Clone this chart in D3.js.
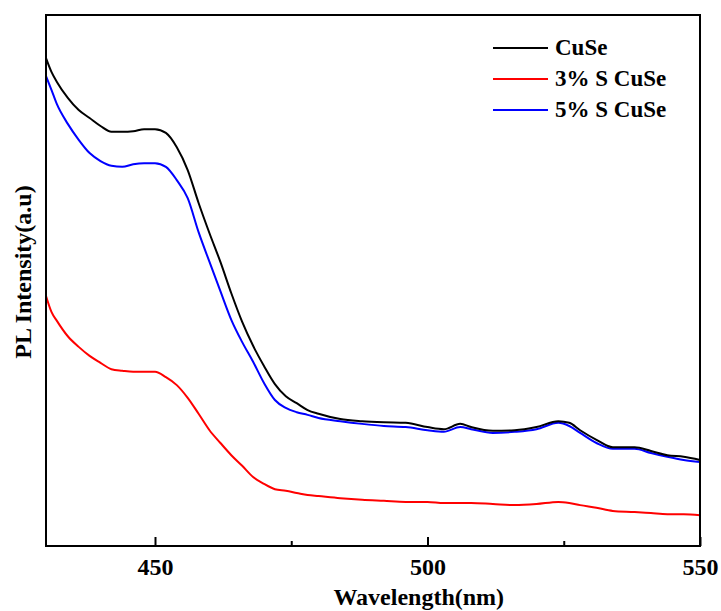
<!DOCTYPE html>
<meta charset="utf-8">
<script src="https://cdn.jsdelivr.net/npm/d3@7"></script>
<style>
    body { margin: 0; background: #fff; }
    text { font-family: "Liberation Serif", "Times New Roman", serif; font-weight: bold; }
</style>
<div id="chart"></div>
<script>
    // wavelength grid (nm)
    var wavelength = [430, 431, 432, 434, 436, 438, 440, 442, 444, 446, 448, 450, 452, 454, 456, 458, 460, 462, 464, 466,
        468, 470, 472, 474, 476, 478, 480, 484, 488, 492, 496, 500, 503, 506, 508, 512, 516, 520, 524, 526, 528, 531,
        534, 538, 541, 544, 547, 550];

    // PL intensity (a.u.)
    var cuse = [919, 893, 874, 844, 821, 806, 791, 780, 780, 781, 785, 785, 778, 751, 708, 646, 589, 535, 476, 422,
        377, 339, 305, 282, 269, 256, 249, 239, 235, 233, 232, 224, 220, 230, 224, 217, 218, 224, 235, 232, 218, 200,
        186, 186, 179, 171, 168, 162];
    var s3 = [471, 441, 424, 395, 375, 358, 345, 333, 330, 328, 328, 328, 318, 303, 279, 249, 218, 194, 171, 151,
        130, 117, 107, 104, 100, 96, 94, 90, 87, 85, 83, 83, 81, 81, 81, 79, 77, 79, 83, 81, 77, 72,
        66, 64, 62, 60, 60, 58];
    var s5 = [885, 859, 832, 795, 765, 740, 725, 716, 714, 719, 721, 721, 714, 689, 655, 591, 535, 480, 426, 384,
        347, 307, 275, 260, 252, 247, 241, 235, 230, 226, 224, 218, 215, 224, 220, 213, 215, 220, 232, 226, 213, 194,
        183, 183, 175, 168, 162, 158];

    var seriesNames = ["CuSe", "3% S CuSe", "5% S CuSe"];
    var seriesColors = ["#000000", "#ff0000", "#0000ff"];
    var majorTicks = [450, 500, 550];
    var minorTicks = [475, 525];

    var margin = { top: 15, right: 21, bottom: 65, left: 46 },
        width = 721 - margin.left - margin.right,
        height = 611 - margin.top - margin.bottom;

    var svg = d3.select("#chart")
        .append("svg")
        .attr("width", 721)
        .attr("height", 611)
        .append("g")
        .attr("transform", "translate(" + margin.left + "," + margin.top + ")");

    var x = d3.scaleLinear().domain([430, 550]).range([0, width]);
    var y = d3.scaleLinear().domain([0, 1000]).range([height, 0]);

    var line = d3.line()
        .x(function(d) { return x(d[0]); })
        .y(function(d) { return y(d[1]); })
        .curve(d3.curveMonotoneX);

    // draw red first, then blue, black on top
    var all = [cuse, s3, s5];
    [1, 2, 0].forEach(function(i) {
        svg.append("path")
            .datum(d3.zip(wavelength, all[i]))
            .attr("fill", "none")
            .attr("stroke", seriesColors[i])
            .attr("stroke-width", 2)
            .attr("d", line);
    });

    // frame
    svg.append("rect")
        .attr("width", width)
        .attr("height", height)
        .attr("fill", "none")
        .attr("stroke", "#000")
        .attr("stroke-width", 2);

    // x axis with inward ticks
    var xAxis = svg.append("g")
        .attr("transform", "translate(0," + height + ")")
        .call(d3.axisBottom(x).tickValues(majorTicks).tickSize(-9).tickPadding(12).tickFormat(d3.format("d")));
    xAxis.select(".domain").remove();
    xAxis.selectAll("line").attr("stroke-width", 2);
    xAxis.selectAll("text")
        .style("font-size", "24px")
        .style("font-family", "'Liberation Serif', serif")
        .style("font-weight", "bold")
        .attr("fill", "#000");

    var xMinor = svg.append("g")
        .attr("transform", "translate(0," + height + ")")
        .call(d3.axisBottom(x).tickValues(minorTicks).tickSize(-5).tickFormat(""));
    xMinor.select(".domain").remove();
    xMinor.selectAll("line").attr("stroke-width", 2);

    // axis labels
    svg.append("text")
        .attr("text-anchor", "middle")
        .attr("x", x(498.4))
        .attr("y", height + 59)
        .style("font-size", "24px")
        .text("Wavelength(nm)");

    svg.append("text")
        .attr("text-anchor", "middle")
        .attr("transform", "translate(" + (-15) + "," + (y(516)) + ") rotate(-90)")
        .style("font-size", "24px")
        .text("PL Intensity(a.u)");

    // legend
    var legend = svg.append("g")
        .attr("transform", "translate(" + (493 - margin.left) + "," + (48 - margin.top) + ")");
    seriesNames.forEach(function(name, i) {
        var g = legend.append("g").attr("transform", "translate(0," + (i * 31) + ")");
        g.append("line")
            .attr("x1", 0).attr("x2", 55)
            .attr("stroke", seriesColors[i])
            .attr("stroke-width", 2);
        g.append("text")
            .attr("x", 62)
            .attr("y", 7)
            .style("font-size", "23px")
            .text(name);
    });
</script>
